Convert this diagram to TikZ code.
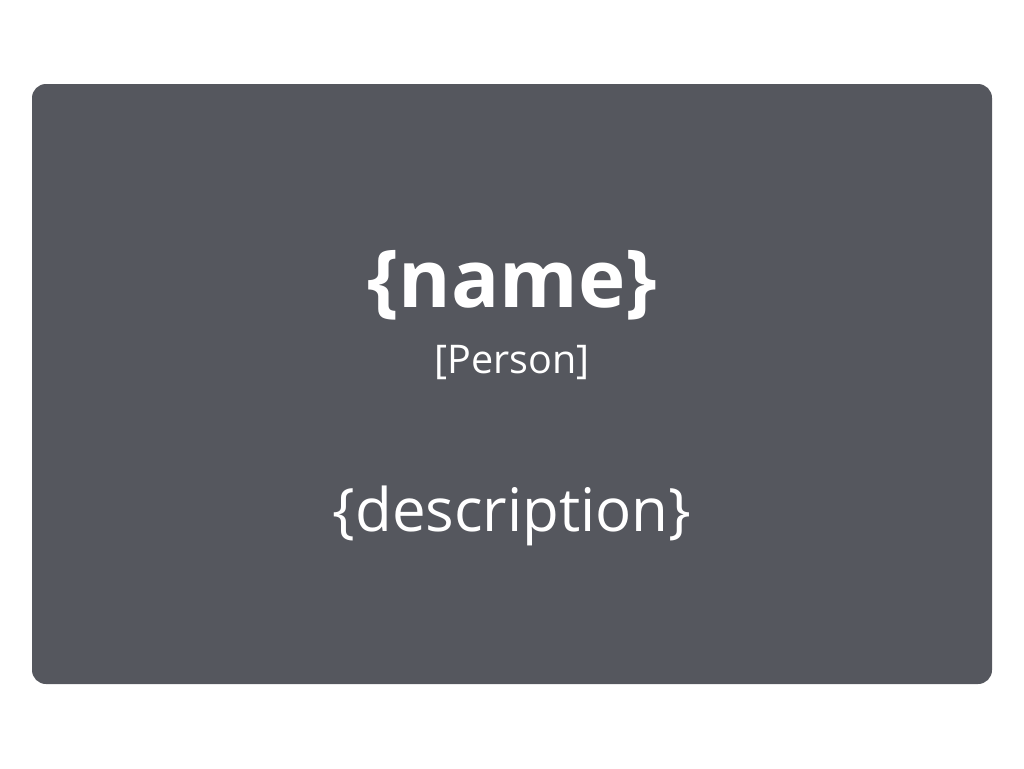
\documentclass[tikz,border=0pt]{standalone}
\usepackage{fontspec}
\setmainfont{Open Sans}
\definecolor{boxgray}{RGB}{85,87,94}

\begin{document}
\begin{tikzpicture}[x=1pt, y=-1pt,
    title/.style={text=white, font=\fontsize{80}{94}\selectfont\bfseries, anchor=base, inner sep=0pt},
    kind/.style={text=white, font=\fontsize{39.5}{46}\selectfont, anchor=base, inner sep=0pt},
    desc/.style={text=white, font=\fontsize{60}{70}\selectfont, anchor=base, inner sep=0pt}]

        \useasboundingbox (0, 0) rectangle (1024, 768);
        \fill[boxgray, rounded corners=14pt] (32, 84) rectangle (992, 684);

        \node[title] (name) at (512, 307) {\{name\}};
        \node[kind] (person) at (512, 373) {[Person]};
        \node[desc] (description) at (512, 531) {\{description\}};

\end{tikzpicture}
\end{document}
